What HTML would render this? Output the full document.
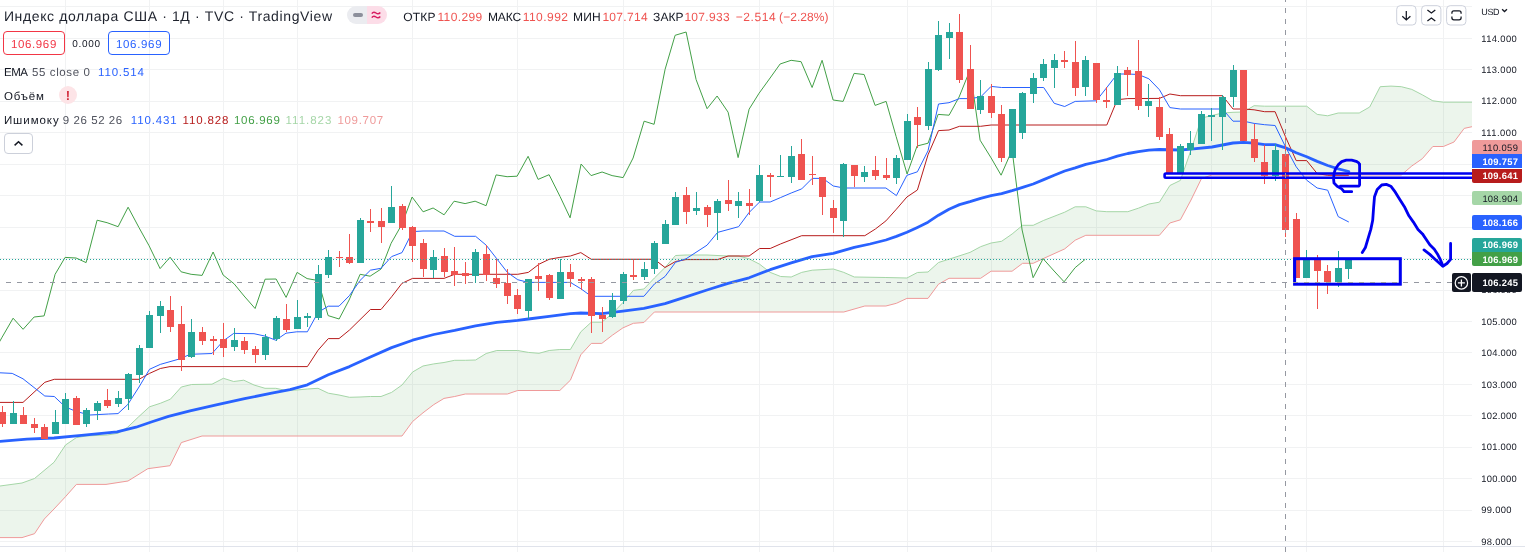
<!DOCTYPE html><html lang="ru"><head><meta charset="utf-8"><title>Индекс доллара США</title><style>
html,body{margin:0;padding:0;background:#fff;}
body{width:1525px;height:552px;position:relative;overflow:hidden;font-family:"Liberation Sans","DejaVu Sans",sans-serif;color:#131722;text-rendering:geometricPrecision;}
.t{position:absolute;white-space:nowrap;line-height:1;}
.pl{position:absolute;left:1472px;width:50px;box-sizing:border-box;border-radius:2px;}
.btn{position:absolute;box-sizing:border-box;border:1px solid #d1d4dc;border-radius:4px;background:#fff;}
</style></head><body>
<svg id="chart" width="1525" height="552" viewBox="0 0 1525 552" style="position:absolute;left:0;top:0">
<g stroke="#f1f2f3" stroke-width="1" shape-rendering="crispEdges"><line x1="0" y1="541.5" x2="1472" y2="541.5"/><line x1="0" y1="510.5" x2="1472" y2="510.5"/><line x1="0" y1="478.5" x2="1472" y2="478.5"/><line x1="0" y1="447.5" x2="1472" y2="447.5"/><line x1="0" y1="415.5" x2="1472" y2="415.5"/><line x1="0" y1="384.5" x2="1472" y2="384.5"/><line x1="0" y1="352.5" x2="1472" y2="352.5"/><line x1="0" y1="321.5" x2="1472" y2="321.5"/><line x1="0" y1="290.5" x2="1472" y2="290.5"/><line x1="0" y1="258.5" x2="1472" y2="258.5"/><line x1="0" y1="227.5" x2="1472" y2="227.5"/><line x1="0" y1="195.5" x2="1472" y2="195.5"/><line x1="0" y1="164.5" x2="1472" y2="164.5"/><line x1="0" y1="132.5" x2="1472" y2="132.5"/><line x1="0" y1="101.5" x2="1472" y2="101.5"/><line x1="0" y1="69.5" x2="1472" y2="69.5"/><line x1="0" y1="38.5" x2="1472" y2="38.5"/><line x1="0" y1="6.5" x2="1472" y2="6.5"/><line x1="65.5" y1="0" x2="65.5" y2="552"/><line x1="149.5" y1="0" x2="149.5" y2="552"/><line x1="223.5" y1="0" x2="223.5" y2="552"/><line x1="297.5" y1="0" x2="297.5" y2="552"/><line x1="412.5" y1="0" x2="412.5" y2="552"/><line x1="517.5" y1="0" x2="517.5" y2="552"/><line x1="623.5" y1="0" x2="623.5" y2="552"/><line x1="759.5" y1="0" x2="759.5" y2="552"/><line x1="833.5" y1="0" x2="833.5" y2="552"/><line x1="907.5" y1="0" x2="907.5" y2="552"/><line x1="991.5" y1="0" x2="991.5" y2="552"/><line x1="1096.5" y1="0" x2="1096.5" y2="552"/><line x1="1211.5" y1="0" x2="1211.5" y2="552"/><line x1="1306.5" y1="0" x2="1306.5" y2="552"/><line x1="1443.5" y1="0" x2="1443.5" y2="552"/></g>
<polygon points="0.0,486.0 22.0,483.0 34.5,478.5 54.0,462.3 65.5,445.0 76.4,437.6 87.0,435.9 107.3,435.0 118.2,433.2 127.7,427.2 138.6,416.8 149.5,406.8 160.3,403.3 170.4,399.2 181.3,387.0 191.6,384.5 212.0,384.2 223.4,378.3 233.7,381.5 243.8,380.2 254.0,385.0 265.0,388.3 275.8,388.3 286.0,390.5 296.8,390.0 307.4,389.0 318.0,388.3 328.3,393.2 339.0,395.0 349.5,397.3 360.0,397.0 370.4,396.5 381.0,396.5 391.6,392.4 402.0,385.0 412.6,372.0 423.0,366.0 433.8,363.9 444.0,362.5 454.7,360.3 465.3,360.3 475.6,360.0 486.2,353.5 496.8,350.5 517.7,350.5 528.3,352.4 539.0,353.3 549.2,350.5 559.8,349.5 570.4,349.5 580.8,331.8 591.3,322.2 601.8,322.2 612.4,313.5 622.9,302.6 633.4,290.4 643.9,289.0 654.4,278.0 665.0,267.5 675.5,255.5 686.0,255.0 707.0,255.0 728.1,256.0 738.6,256.0 749.1,258.8 759.6,264.2 770.2,272.4 780.7,276.5 791.2,277.0 801.7,272.4 812.2,270.2 833.3,269.0 843.8,272.4 854.3,277.0 885.9,277.5 906.9,278.0 917.4,272.5 928.0,272.0 938.5,262.5 949.0,259.2 970.0,252.4 980.6,246.7 991.1,243.0 1001.6,241.3 1012.1,234.0 1022.6,225.3 1033.2,225.3 1043.7,220.4 1064.7,212.2 1075.2,206.8 1085.8,206.8 1096.3,210.9 1106.8,211.7 1127.8,211.7 1138.4,208.2 1148.9,204.0 1159.4,202.2 1169.9,185.5 1180.4,180.4 1191.0,150.0 1201.5,118.0 1212.0,115.5 1222.5,113.0 1233.0,112.3 1243.6,112.0 1254.1,105.7 1264.6,106.2 1306.7,106.2 1317.2,114.4 1327.7,115.8 1338.2,113.0 1359.2,113.0 1369.7,107.0 1380.2,86.7 1391.0,86.1 1401.3,86.7 1411.8,89.4 1422.3,94.8 1432.8,100.8 1443.4,102.2 1472.0,102.2 1472.0,126.7 1464.2,128.4 1454.0,142.0 1443.4,146.5 1432.8,146.5 1422.3,158.7 1411.8,166.0 1401.3,175.0 1212.0,175.0 1201.5,178.5 1191.0,200.0 1180.4,219.8 1169.9,223.0 1159.4,235.3 1085.8,235.3 1075.2,240.2 1064.7,248.9 1043.7,258.4 1033.2,263.3 1022.6,263.3 1012.1,271.2 991.1,271.2 980.6,278.3 949.0,278.3 938.5,284.2 928.0,298.4 906.9,298.4 896.4,303.3 885.9,306.0 864.8,306.0 843.8,312.0 654.4,312.0 643.9,322.5 633.4,323.3 622.9,327.9 612.4,335.2 601.8,343.4 591.3,343.4 580.8,354.8 570.4,380.2 559.8,390.5 517.7,390.5 507.4,394.0 465.3,394.0 454.7,396.5 444.0,398.4 433.8,404.6 423.0,412.8 412.6,421.5 402.0,436.0 202.0,436.0 181.3,442.6 170.0,465.7 147.8,468.7 128.0,481.0 106.0,484.4 76.4,484.4 65.5,496.7 54.0,509.0 44.3,519.0 34.5,533.7 22.0,537.6 0.0,537.6" fill="rgba(67,160,71,0.1)"/>
<polyline points="0.0,486.0 22.0,483.0 34.5,478.5 54.0,462.3 65.5,445.0 76.4,437.6 87.0,435.9 107.3,435.0 118.2,433.2 127.7,427.2 138.6,416.8 149.5,406.8 160.3,403.3 170.4,399.2 181.3,387.0 191.6,384.5 212.0,384.2 223.4,378.3 233.7,381.5 243.8,380.2 254.0,385.0 265.0,388.3 275.8,388.3 286.0,390.5 296.8,390.0 307.4,389.0 318.0,388.3 328.3,393.2 339.0,395.0 349.5,397.3 360.0,397.0 370.4,396.5 381.0,396.5 391.6,392.4 402.0,385.0 412.6,372.0 423.0,366.0 433.8,363.9 444.0,362.5 454.7,360.3 465.3,360.3 475.6,360.0 486.2,353.5 496.8,350.5 517.7,350.5 528.3,352.4 539.0,353.3 549.2,350.5 559.8,349.5 570.4,349.5 580.8,331.8 591.3,322.2 601.8,322.2 612.4,313.5 622.9,302.6 633.4,290.4 643.9,289.0 654.4,278.0 665.0,267.5 675.5,255.5 686.0,255.0 707.0,255.0 728.1,256.0 738.6,256.0 749.1,258.8 759.6,264.2 770.2,272.4 780.7,276.5 791.2,277.0 801.7,272.4 812.2,270.2 833.3,269.0 843.8,272.4 854.3,277.0 885.9,277.5 906.9,278.0 917.4,272.5 928.0,272.0 938.5,262.5 949.0,259.2 970.0,252.4 980.6,246.7 991.1,243.0 1001.6,241.3 1012.1,234.0 1022.6,225.3 1033.2,225.3 1043.7,220.4 1064.7,212.2 1075.2,206.8 1085.8,206.8 1096.3,210.9 1106.8,211.7 1127.8,211.7 1138.4,208.2 1148.9,204.0 1159.4,202.2 1169.9,185.5 1180.4,180.4 1191.0,150.0 1201.5,118.0 1212.0,115.5 1222.5,113.0 1233.0,112.3 1243.6,112.0 1254.1,105.7 1264.6,106.2 1306.7,106.2 1317.2,114.4 1327.7,115.8 1338.2,113.0 1359.2,113.0 1369.7,107.0 1380.2,86.7 1391.0,86.1 1401.3,86.7 1411.8,89.4 1422.3,94.8 1432.8,100.8 1443.4,102.2 1472.0,102.2" fill="none" stroke="#a5d6a7" stroke-width="1"/>
<polyline points="0.0,537.6 22.0,537.6 34.5,533.7 44.3,519.0 54.0,509.0 65.5,496.7 76.4,484.4 106.0,484.4 128.0,481.0 147.8,468.7 170.0,465.7 181.3,442.6 202.0,436.0 402.0,436.0 412.6,421.5 423.0,412.8 433.8,404.6 444.0,398.4 454.7,396.5 465.3,394.0 507.4,394.0 517.7,390.5 559.8,390.5 570.4,380.2 580.8,354.8 591.3,343.4 601.8,343.4 612.4,335.2 622.9,327.9 633.4,323.3 643.9,322.5 654.4,312.0 843.8,312.0 864.8,306.0 885.9,306.0 896.4,303.3 906.9,298.4 928.0,298.4 938.5,284.2 949.0,278.3 980.6,278.3 991.1,271.2 1012.1,271.2 1022.6,263.3 1033.2,263.3 1043.7,258.4 1064.7,248.9 1075.2,240.2 1085.8,235.3 1159.4,235.3 1169.9,223.0 1180.4,219.8 1191.0,200.0 1201.5,178.5 1212.0,175.0 1401.3,175.0 1411.8,166.0 1422.3,158.7 1432.8,146.5 1443.4,146.5 1454.0,142.0 1464.2,128.4 1472.0,126.7" fill="none" stroke="#ef9a9a" stroke-width="1"/>
<polyline points="-7.9,354.9 2.1,337.2 13.1,318.2 23.1,329.3 34.1,317.0 44.1,315.9 55.1,274.3 65.1,257.4 76.1,258.0 86.1,262.6 97.1,220.2 107.1,222.7 118.1,226.7 128.1,207.2 139.1,227.8 149.1,245.8 160.1,268.6 170.1,257.2 181.1,271.8 191.1,274.3 202.1,275.4 213.1,252.0 223.1,275.0 234.1,283.8 244.1,296.0 255.1,308.5 265.1,279.2 276.1,279.0 286.1,297.4 297.1,272.4 307.1,278.6 318.1,280.5 328.1,315.6 339.1,319.0 349.1,300.0 360.1,274.3 370.1,276.2 381.1,269.0 391.1,243.3 402.1,224.0 412.1,197.0 423.1,211.8 433.1,208.0 444.1,214.8 454.1,201.2 465.1,203.6 475.1,201.2 486.1,205.7 496.1,174.9 507.1,176.7 517.1,176.2 528.1,156.3 538.1,179.4 549.1,174.7 560.1,196.6 570.1,217.8 581.1,164.0 591.1,175.6 602.1,172.0 612.1,175.6 623.1,177.6 633.1,158.0 644.1,121.2 654.1,124.3 665.1,69.3 675.1,35.3 686.1,32.0 696.1,79.6 707.1,108.7 717.1,96.0 728.1,112.2 738.1,157.6 749.1,109.2 759.1,93.2 770.1,78.0 780.1,64.0 791.1,60.3 801.1,61.7 812.1,87.5 822.1,60.3 833.1,100.0 843.1,101.4 854.1,73.4 864.1,74.5 875.1,105.4 886.1,101.4 896.1,136.4 907.1,174.0 917.1,146.0 928.1,143.2 938.1,114.4 949.1,115.2 959.1,97.0 970.1,69.8 980.1,140.2 991.1,157.9 1001.1,175.2 1012.1,150.0 1022.1,230.0 1033.1,277.7 1043.1,258.7 1054.1,271.0 1064.1,281.8 1075.1,267.7 1085.1,259.4" fill="none" stroke="#43a047" stroke-width="1" stroke-linejoin="round"/>
<polyline points="0.0,402.4 23.0,402.4 44.8,382.3 54.3,379.3 139.0,379.3 149.5,373.4 160.3,368.5 170.0,366.6 307.4,366.6 318.0,350.3 328.3,338.6 339.0,338.6 349.5,330.0 370.4,309.5 381.0,309.5 391.6,296.8 402.0,283.3 412.6,278.4 444.0,278.4 454.7,274.3 517.7,274.3 528.3,272.4 539.0,264.2 549.2,259.3 559.8,257.4 570.4,256.0 580.8,252.6 591.3,259.3 654.4,259.3 665.0,267.5 675.5,261.5 686.0,259.6 717.6,259.6 728.1,256.0 749.1,256.0 759.6,248.5 770.2,248.5 780.7,243.9 801.7,235.7 864.8,235.7 875.4,229.0 885.9,220.9 896.4,209.2 906.9,197.0 917.4,190.0 928.0,154.8 938.5,130.6 949.0,130.0 959.5,126.3 980.6,126.3 991.1,125.0 1106.8,125.0 1117.3,99.7 1127.8,98.6 1159.4,98.4 1169.9,94.0 1180.4,95.7 1222.5,95.7 1233.0,109.0 1243.6,109.0 1254.1,109.8 1264.6,111.7 1275.1,111.7 1285.6,137.0 1296.2,160.6 1306.7,160.6 1317.2,173.6 1327.7,175.3 1348.8,175.3" fill="none" stroke="#b71c1c" stroke-width="1" stroke-linejoin="round"/>
<polyline points="0.0,372.8 12.2,373.4 23.0,378.8 44.8,396.0 54.3,396.5 65.2,406.8 76.0,411.4 89.7,415.0 108.7,414.0 118.0,413.6 127.7,404.6 139.0,387.0 149.5,369.3 160.3,364.4 179.3,359.0 190.2,354.3 212.0,353.5 223.4,340.8 233.7,333.4 254.0,333.7 265.0,336.1 275.8,340.2 286.0,333.2 296.8,331.8 307.4,331.8 318.0,312.4 328.3,306.2 339.0,306.2 349.5,295.5 360.0,280.5 370.4,270.2 381.0,268.3 391.6,256.6 402.0,252.6 412.6,231.6 423.0,231.0 444.0,231.0 454.7,236.3 475.6,236.3 486.2,245.2 496.8,258.8 507.4,272.4 517.7,279.7 528.3,282.4 570.4,282.4 580.8,288.7 591.3,296.3 643.9,296.3 654.4,284.0 665.0,276.5 675.5,262.3 686.0,258.8 707.0,245.2 717.6,232.4 738.6,226.7 749.1,212.5 759.6,202.0 770.2,202.0 780.7,197.5 791.2,193.0 801.7,188.9 812.2,178.4 822.8,178.4 833.3,186.0 843.8,188.0 885.9,188.0 896.4,195.6 906.9,175.3 917.4,171.8 928.0,150.8 938.5,104.0 949.0,102.7 959.5,98.6 970.0,98.6 980.6,97.0 991.1,86.4 1001.6,87.5 1043.7,87.5 1054.2,103.3 1064.7,106.5 1075.2,101.4 1096.3,100.8 1106.8,87.5 1117.3,74.0 1127.8,74.0 1138.4,74.5 1148.9,78.8 1159.4,89.7 1169.9,107.6 1180.4,109.0 1222.5,109.0 1233.0,121.2 1243.6,121.2 1254.1,123.4 1264.6,124.7 1275.1,125.5 1285.6,147.0 1296.2,166.8 1306.7,180.2 1317.2,188.0 1327.7,190.2 1338.2,216.6 1348.8,222.0" fill="none" stroke="#2962ff" stroke-width="1" stroke-linejoin="round"/>
<polyline points="0.0,441.3 27.0,439.1 54.0,438.0 81.5,435.3 117.0,431.8 136.0,427.2 152.0,421.7 168.5,416.3 190.0,410.9 217.4,404.6 244.6,398.6 271.7,393.2 290.0,389.7 307.4,384.8 328.3,374.7 349.5,366.6 370.4,357.0 391.6,347.6 412.6,340.2 433.8,334.5 454.7,330.4 475.6,325.8 496.8,322.3 517.7,320.4 528.3,319.0 549.2,316.3 570.4,313.6 580.8,313.0 601.8,313.7 622.9,311.2 643.9,308.3 665.0,303.6 686.0,296.8 707.0,290.0 728.1,283.3 749.1,277.8 770.2,269.7 791.2,262.9 812.2,256.6 833.3,253.4 854.3,247.4 870.0,244.0 885.9,240.0 896.4,236.4 906.9,232.3 917.4,227.4 928.0,222.2 938.5,215.2 949.0,209.2 959.5,204.6 970.0,201.6 980.6,198.3 991.1,195.6 1001.6,193.7 1012.1,190.7 1022.6,187.4 1033.2,184.0 1043.7,179.6 1054.2,175.2 1064.7,171.0 1075.2,167.9 1085.8,164.3 1096.3,162.0 1106.8,159.5 1117.3,156.2 1127.8,153.5 1138.4,151.6 1148.9,150.2 1159.4,149.5 1180.4,150.0 1191.0,149.2 1212.0,147.0 1233.0,143.0 1243.6,142.4 1254.1,143.2 1264.6,144.6 1275.1,144.6 1285.6,147.8 1296.2,152.7 1306.7,156.8 1317.2,161.4 1327.7,165.5 1338.2,168.8 1348.8,171.5" fill="none" stroke="#2962ff" stroke-width="2.8" stroke-linejoin="round" stroke-linecap="round"/>
<g shape-rendering="crispEdges"><rect x="2" y="406" width="1" height="21" fill="#ef5350"/><rect x="-1" y="412" width="7" height="12" fill="#ef5350"/><rect x="13" y="401" width="1" height="23" fill="#26a69a"/><rect x="10" y="413" width="7" height="11" fill="#26a69a"/><rect x="23" y="407" width="1" height="17" fill="#ef5350"/><rect x="20" y="415" width="7" height="9" fill="#ef5350"/><rect x="34" y="418" width="1" height="15" fill="#ef5350"/><rect x="31" y="424" width="7" height="4" fill="#ef5350"/><rect x="44" y="424" width="1" height="15" fill="#ef5350"/><rect x="41" y="427" width="7" height="12" fill="#ef5350"/><rect x="55" y="410" width="1" height="24" fill="#26a69a"/><rect x="52" y="422" width="7" height="12" fill="#26a69a"/><rect x="65" y="393" width="1" height="31" fill="#26a69a"/><rect x="62" y="399" width="7" height="25" fill="#26a69a"/><rect x="76" y="396" width="1" height="29" fill="#ef5350"/><rect x="73" y="398" width="7" height="27" fill="#ef5350"/><rect x="86" y="408" width="1" height="19" fill="#26a69a"/><rect x="83" y="410" width="7" height="14" fill="#26a69a"/><rect x="97" y="401" width="1" height="19" fill="#26a69a"/><rect x="94" y="403" width="7" height="8" fill="#26a69a"/><rect x="107" y="389" width="1" height="19" fill="#ef5350"/><rect x="104" y="400" width="7" height="6" fill="#ef5350"/><rect x="118" y="391" width="1" height="16" fill="#26a69a"/><rect x="115" y="398" width="7" height="6" fill="#26a69a"/><rect x="128" y="373" width="1" height="37" fill="#26a69a"/><rect x="125" y="374" width="7" height="25" fill="#26a69a"/><rect x="139" y="345" width="1" height="38" fill="#26a69a"/><rect x="136" y="348" width="7" height="27" fill="#26a69a"/><rect x="149" y="311" width="1" height="37" fill="#26a69a"/><rect x="146" y="315" width="7" height="33" fill="#26a69a"/><rect x="160" y="301" width="1" height="32" fill="#26a69a"/><rect x="157" y="306" width="7" height="10" fill="#26a69a"/><rect x="170" y="296" width="1" height="36" fill="#ef5350"/><rect x="167" y="310" width="7" height="17" fill="#ef5350"/><rect x="181" y="306" width="1" height="65" fill="#ef5350"/><rect x="178" y="324" width="7" height="36" fill="#ef5350"/><rect x="191" y="319" width="1" height="39" fill="#26a69a"/><rect x="188" y="332" width="7" height="25" fill="#26a69a"/><rect x="202" y="327" width="1" height="18" fill="#ef5350"/><rect x="199" y="332" width="7" height="9" fill="#ef5350"/><rect x="213" y="336" width="1" height="19" fill="#ef5350"/><rect x="210" y="339" width="7" height="2" fill="#ef5350"/><rect x="223" y="323" width="1" height="34" fill="#ef5350"/><rect x="220" y="339" width="7" height="9" fill="#ef5350"/><rect x="234" y="328" width="1" height="23" fill="#26a69a"/><rect x="231" y="340" width="7" height="7" fill="#26a69a"/><rect x="244" y="337" width="1" height="17" fill="#ef5350"/><rect x="241" y="341" width="7" height="9" fill="#ef5350"/><rect x="255" y="346" width="1" height="17" fill="#ef5350"/><rect x="252" y="349" width="7" height="6" fill="#ef5350"/><rect x="265" y="334" width="1" height="26" fill="#26a69a"/><rect x="262" y="337" width="7" height="18" fill="#26a69a"/><rect x="276" y="316" width="1" height="25" fill="#26a69a"/><rect x="273" y="318" width="7" height="21" fill="#26a69a"/><rect x="286" y="304" width="1" height="28" fill="#ef5350"/><rect x="283" y="319" width="7" height="11" fill="#ef5350"/><rect x="297" y="300" width="1" height="29" fill="#26a69a"/><rect x="294" y="317" width="7" height="12" fill="#26a69a"/><rect x="307" y="313" width="1" height="14" fill="#26a69a"/><rect x="304" y="316" width="7" height="2" fill="#26a69a"/><rect x="318" y="265" width="1" height="55" fill="#26a69a"/><rect x="315" y="274" width="7" height="44" fill="#26a69a"/><rect x="328" y="250" width="1" height="28" fill="#26a69a"/><rect x="325" y="257" width="7" height="18" fill="#26a69a"/><rect x="339" y="251" width="1" height="16" fill="#ef5350"/><rect x="336" y="257" width="7" height="1" fill="#ef5350"/><rect x="349" y="234" width="1" height="30" fill="#ef5350"/><rect x="346" y="257" width="7" height="6" fill="#ef5350"/><rect x="360" y="218" width="1" height="45" fill="#26a69a"/><rect x="357" y="220" width="7" height="43" fill="#26a69a"/><rect x="370" y="209" width="1" height="23" fill="#ef5350"/><rect x="367" y="221" width="7" height="2" fill="#ef5350"/><rect x="381" y="208" width="1" height="35" fill="#ef5350"/><rect x="378" y="221" width="7" height="6" fill="#ef5350"/><rect x="391" y="186" width="1" height="37" fill="#26a69a"/><rect x="388" y="207" width="7" height="16" fill="#26a69a"/><rect x="402" y="204" width="1" height="26" fill="#ef5350"/><rect x="399" y="206" width="7" height="22" fill="#ef5350"/><rect x="412" y="226" width="1" height="36" fill="#ef5350"/><rect x="409" y="227" width="7" height="19" fill="#ef5350"/><rect x="423" y="239" width="1" height="38" fill="#ef5350"/><rect x="420" y="243" width="7" height="26" fill="#ef5350"/><rect x="433" y="250" width="1" height="28" fill="#26a69a"/><rect x="430" y="257" width="7" height="13" fill="#26a69a"/><rect x="444" y="248" width="1" height="29" fill="#ef5350"/><rect x="441" y="256" width="7" height="16" fill="#ef5350"/><rect x="454" y="247" width="1" height="39" fill="#ef5350"/><rect x="451" y="271" width="7" height="4" fill="#ef5350"/><rect x="465" y="262" width="1" height="22" fill="#ef5350"/><rect x="462" y="273" width="7" height="3" fill="#ef5350"/><rect x="475" y="249" width="1" height="34" fill="#26a69a"/><rect x="472" y="252" width="7" height="24" fill="#26a69a"/><rect x="486" y="245" width="1" height="36" fill="#ef5350"/><rect x="483" y="254" width="7" height="21" fill="#ef5350"/><rect x="496" y="259" width="1" height="29" fill="#ef5350"/><rect x="493" y="278" width="7" height="6" fill="#ef5350"/><rect x="507" y="269" width="1" height="35" fill="#ef5350"/><rect x="504" y="283" width="7" height="13" fill="#ef5350"/><rect x="517" y="289" width="1" height="25" fill="#ef5350"/><rect x="514" y="295" width="7" height="14" fill="#ef5350"/><rect x="528" y="279" width="1" height="40" fill="#26a69a"/><rect x="525" y="279" width="7" height="32" fill="#26a69a"/><rect x="538" y="263" width="1" height="28" fill="#ef5350"/><rect x="535" y="276" width="7" height="3" fill="#ef5350"/><rect x="549" y="274" width="1" height="26" fill="#ef5350"/><rect x="546" y="275" width="7" height="23" fill="#ef5350"/><rect x="560" y="259" width="1" height="40" fill="#26a69a"/><rect x="557" y="272" width="7" height="27" fill="#26a69a"/><rect x="570" y="264" width="1" height="23" fill="#ef5350"/><rect x="567" y="272" width="7" height="7" fill="#ef5350"/><rect x="581" y="277" width="1" height="13" fill="#ef5350"/><rect x="578" y="279" width="7" height="2" fill="#ef5350"/><rect x="591" y="277" width="1" height="56" fill="#ef5350"/><rect x="588" y="279" width="7" height="37" fill="#ef5350"/><rect x="602" y="307" width="1" height="25" fill="#ef5350"/><rect x="599" y="315" width="7" height="4" fill="#ef5350"/><rect x="612" y="293" width="1" height="25" fill="#26a69a"/><rect x="609" y="300" width="7" height="17" fill="#26a69a"/><rect x="623" y="272" width="1" height="32" fill="#26a69a"/><rect x="620" y="274" width="7" height="27" fill="#26a69a"/><rect x="633" y="259" width="1" height="21" fill="#ef5350"/><rect x="630" y="275" width="7" height="2" fill="#ef5350"/><rect x="644" y="262" width="1" height="18" fill="#26a69a"/><rect x="641" y="269" width="7" height="8" fill="#26a69a"/><rect x="654" y="241" width="1" height="33" fill="#26a69a"/><rect x="651" y="243" width="7" height="26" fill="#26a69a"/><rect x="665" y="220" width="1" height="24" fill="#26a69a"/><rect x="662" y="224" width="7" height="20" fill="#26a69a"/><rect x="675" y="192" width="1" height="33" fill="#26a69a"/><rect x="672" y="197" width="7" height="28" fill="#26a69a"/><rect x="686" y="187" width="1" height="37" fill="#ef5350"/><rect x="683" y="195" width="7" height="17" fill="#ef5350"/><rect x="696" y="192" width="1" height="23" fill="#26a69a"/><rect x="693" y="208" width="7" height="3" fill="#26a69a"/><rect x="707" y="205" width="1" height="22" fill="#ef5350"/><rect x="704" y="207" width="7" height="8" fill="#ef5350"/><rect x="717" y="199" width="1" height="41" fill="#26a69a"/><rect x="714" y="201" width="7" height="12" fill="#26a69a"/><rect x="728" y="180" width="1" height="31" fill="#ef5350"/><rect x="725" y="200" width="7" height="4" fill="#ef5350"/><rect x="738" y="192" width="1" height="26" fill="#26a69a"/><rect x="735" y="201" width="7" height="5" fill="#26a69a"/><rect x="749" y="189" width="1" height="26" fill="#ef5350"/><rect x="746" y="203" width="7" height="3" fill="#ef5350"/><rect x="759" y="165" width="1" height="37" fill="#26a69a"/><rect x="756" y="175" width="7" height="26" fill="#26a69a"/><rect x="770" y="173" width="1" height="24" fill="#ef5350"/><rect x="767" y="175" width="7" height="2" fill="#ef5350"/><rect x="780" y="155" width="1" height="22" fill="#26a69a"/><rect x="777" y="176" width="7" height="1" fill="#26a69a"/><rect x="791" y="146" width="1" height="37" fill="#26a69a"/><rect x="788" y="156" width="7" height="21" fill="#26a69a"/><rect x="801" y="139" width="1" height="41" fill="#ef5350"/><rect x="798" y="154" width="7" height="26" fill="#ef5350"/><rect x="812" y="156" width="1" height="29" fill="#ef5350"/><rect x="809" y="174" width="7" height="1" fill="#ef5350"/><rect x="822" y="177" width="1" height="38" fill="#ef5350"/><rect x="819" y="177" width="7" height="20" fill="#ef5350"/><rect x="833" y="200" width="1" height="33" fill="#ef5350"/><rect x="830" y="208" width="7" height="10" fill="#ef5350"/><rect x="843" y="163" width="1" height="74" fill="#26a69a"/><rect x="840" y="164" width="7" height="57" fill="#26a69a"/><rect x="854" y="165" width="1" height="22" fill="#ef5350"/><rect x="851" y="165" width="7" height="11" fill="#ef5350"/><rect x="864" y="166" width="1" height="16" fill="#26a69a"/><rect x="861" y="172" width="7" height="5" fill="#26a69a"/><rect x="875" y="156" width="1" height="24" fill="#ef5350"/><rect x="872" y="170" width="7" height="6" fill="#ef5350"/><rect x="886" y="158" width="1" height="22" fill="#ef5350"/><rect x="883" y="175" width="7" height="3" fill="#ef5350"/><rect x="896" y="155" width="1" height="29" fill="#26a69a"/><rect x="893" y="158" width="7" height="20" fill="#26a69a"/><rect x="907" y="114" width="1" height="46" fill="#26a69a"/><rect x="904" y="121" width="7" height="39" fill="#26a69a"/><rect x="917" y="107" width="1" height="41" fill="#ef5350"/><rect x="914" y="117" width="7" height="8" fill="#ef5350"/><rect x="928" y="62" width="1" height="68" fill="#26a69a"/><rect x="925" y="69" width="7" height="57" fill="#26a69a"/><rect x="938" y="21" width="1" height="50" fill="#26a69a"/><rect x="935" y="35" width="7" height="35" fill="#26a69a"/><rect x="949" y="23" width="1" height="36" fill="#26a69a"/><rect x="946" y="32" width="7" height="6" fill="#26a69a"/><rect x="959" y="14" width="1" height="69" fill="#ef5350"/><rect x="956" y="32" width="7" height="48" fill="#ef5350"/><rect x="970" y="45" width="1" height="64" fill="#ef5350"/><rect x="967" y="69" width="7" height="40" fill="#ef5350"/><rect x="980" y="80" width="1" height="34" fill="#26a69a"/><rect x="977" y="96" width="7" height="14" fill="#26a69a"/><rect x="991" y="84" width="1" height="34" fill="#ef5350"/><rect x="988" y="96" width="7" height="17" fill="#ef5350"/><rect x="1001" y="105" width="1" height="57" fill="#ef5350"/><rect x="998" y="114" width="7" height="44" fill="#ef5350"/><rect x="1012" y="109" width="1" height="49" fill="#26a69a"/><rect x="1009" y="109" width="7" height="49" fill="#26a69a"/><rect x="1022" y="92" width="1" height="47" fill="#26a69a"/><rect x="1019" y="93" width="7" height="40" fill="#26a69a"/><rect x="1033" y="73" width="1" height="30" fill="#26a69a"/><rect x="1030" y="78" width="7" height="16" fill="#26a69a"/><rect x="1043" y="59" width="1" height="22" fill="#26a69a"/><rect x="1040" y="64" width="7" height="14" fill="#26a69a"/><rect x="1054" y="54" width="1" height="34" fill="#26a69a"/><rect x="1051" y="60" width="7" height="8" fill="#26a69a"/><rect x="1064" y="51" width="1" height="17" fill="#ef5350"/><rect x="1061" y="60" width="7" height="2" fill="#ef5350"/><rect x="1075" y="41" width="1" height="55" fill="#ef5350"/><rect x="1072" y="62" width="7" height="26" fill="#ef5350"/><rect x="1085" y="56" width="1" height="40" fill="#26a69a"/><rect x="1082" y="60" width="7" height="27" fill="#26a69a"/><rect x="1096" y="63" width="1" height="40" fill="#ef5350"/><rect x="1093" y="63" width="7" height="37" fill="#ef5350"/><rect x="1106" y="87" width="1" height="21" fill="#ef5350"/><rect x="1103" y="100" width="7" height="2" fill="#ef5350"/><rect x="1117" y="66" width="1" height="39" fill="#26a69a"/><rect x="1114" y="73" width="7" height="32" fill="#26a69a"/><rect x="1127" y="67" width="1" height="29" fill="#ef5350"/><rect x="1124" y="70" width="7" height="5" fill="#ef5350"/><rect x="1138" y="40" width="1" height="70" fill="#ef5350"/><rect x="1135" y="71" width="7" height="35" fill="#ef5350"/><rect x="1148" y="84" width="1" height="33" fill="#26a69a"/><rect x="1145" y="101" width="7" height="5" fill="#26a69a"/><rect x="1159" y="97" width="1" height="43" fill="#ef5350"/><rect x="1156" y="107" width="7" height="30" fill="#ef5350"/><rect x="1169" y="128" width="1" height="46" fill="#ef5350"/><rect x="1166" y="134" width="7" height="40" fill="#ef5350"/><rect x="1180" y="144" width="1" height="30" fill="#26a69a"/><rect x="1177" y="146" width="7" height="28" fill="#26a69a"/><rect x="1190" y="131" width="1" height="24" fill="#26a69a"/><rect x="1187" y="143" width="7" height="7" fill="#26a69a"/><rect x="1201" y="111" width="1" height="33" fill="#26a69a"/><rect x="1198" y="114" width="7" height="30" fill="#26a69a"/><rect x="1211" y="108" width="1" height="33" fill="#26a69a"/><rect x="1208" y="115" width="7" height="2" fill="#26a69a"/><rect x="1222" y="95" width="1" height="55" fill="#26a69a"/><rect x="1219" y="97" width="7" height="20" fill="#26a69a"/><rect x="1233" y="65" width="1" height="42" fill="#26a69a"/><rect x="1230" y="70" width="7" height="27" fill="#26a69a"/><rect x="1243" y="70" width="1" height="71" fill="#ef5350"/><rect x="1240" y="70" width="7" height="71" fill="#ef5350"/><rect x="1254" y="124" width="1" height="38" fill="#ef5350"/><rect x="1251" y="139" width="7" height="19" fill="#ef5350"/><rect x="1264" y="145" width="1" height="39" fill="#ef5350"/><rect x="1261" y="162" width="7" height="14" fill="#ef5350"/><rect x="1275" y="144" width="1" height="37" fill="#26a69a"/><rect x="1272" y="150" width="7" height="26" fill="#26a69a"/><rect x="1285" y="136" width="1" height="101" fill="#ef5350"/><rect x="1282" y="154" width="7" height="76" fill="#ef5350"/><rect x="1296" y="213" width="1" height="65" fill="#ef5350"/><rect x="1293" y="219" width="7" height="59" fill="#ef5350"/><rect x="1306" y="250" width="1" height="28" fill="#26a69a"/><rect x="1303" y="259" width="7" height="19" fill="#26a69a"/><rect x="1317" y="255" width="1" height="54" fill="#ef5350"/><rect x="1314" y="259" width="7" height="12" fill="#ef5350"/><rect x="1327" y="265" width="1" height="29" fill="#ef5350"/><rect x="1324" y="271" width="7" height="11" fill="#ef5350"/><rect x="1338" y="251" width="1" height="36" fill="#26a69a"/><rect x="1335" y="268" width="7" height="14" fill="#26a69a"/><rect x="1348" y="259" width="1" height="20" fill="#26a69a"/><rect x="1345" y="259" width="7" height="10" fill="#26a69a"/></g>
<line x1="0" y1="259.5" x2="1472" y2="259.5" stroke="#26a69a" stroke-width="1" stroke-dasharray="1 2" shape-rendering="crispEdges"/>
<rect x="1164.6" y="173.5" width="330" height="4.3" rx="1.2" fill="none" stroke="#0000f0" stroke-width="2.6"/>
<rect x="1294.6" y="258.7" width="105.7" height="25.5" fill="none" stroke="#0000f0" stroke-width="3"/>
<polyline points="1359.6,164.5 1358.4,162.6 1356.2,161.3 1351.7,160.1 1346.3,160.1 1341.7,161.6 1338.1,164.9 1335.4,169.0 1334.0,173.6 1333.6,179.0 1334.0,183.1 1337.2,186.2 1341.7,188.9 1344.0,191.7 1351.7,191.7" fill="none" stroke="#0000f0" stroke-width="2.8" stroke-linecap="round" stroke-linejoin="round"/>
<polyline points="1340.4,186.2 1358.9,186.2 1359.6,184.9 1359.6,164.5" fill="none" stroke="#0000f0" stroke-width="2.8" stroke-linecap="round" stroke-linejoin="round"/>
<polyline points="1362.3,252.6 1365.4,247.5 1368.1,238.4 1370.8,229.4 1372.7,220.3 1373.6,207.6 1374.5,196.8 1377.2,189.5 1381.7,185.0 1386.3,184.4 1390.8,186.2 1395.3,192.2 1399.8,199.5 1404.4,206.7 1408.9,215.8 1413.4,222.1 1418.0,229.4 1422.5,233.9 1426.1,239.3 1429.8,244.8 1434.3,249.3 1437.9,254.8 1440.6,260.2 1442.8,265.6" fill="none" stroke="#0000f0" stroke-width="2.8" stroke-linecap="round" stroke-linejoin="round"/>
<polyline points="1424.0,249.9 1429.8,254.4 1436.1,260.2 1442.8,266.2 1447.0,263.5 1450.6,259.3 1450.6,243.5" fill="none" stroke="#0000f0" stroke-width="2.8" stroke-linecap="round" stroke-linejoin="round"/>
<line x1="1285.5" y1="0" x2="1285.5" y2="552" stroke="#9598a1" stroke-width="1" stroke-dasharray="5 6" stroke-dashoffset="3" shape-rendering="crispEdges"/>
<line x1="6" y1="282.5" x2="1452" y2="282.5" stroke="#9598a1" stroke-width="1" stroke-dasharray="5 6" stroke-dashoffset="0" shape-rendering="crispEdges"/>
<line x1="0" y1="546.5" x2="1525" y2="546.5" stroke="#e0e3eb" stroke-width="1" shape-rendering="crispEdges"/>
</svg>
<div class="t" style="letter-spacing:0.302px;left:1481.3px;top:537px;font-size:9.4px;color:#131722;">98.000</div>
<div class="t" style="letter-spacing:0.302px;left:1481.3px;top:505px;font-size:9.4px;color:#131722;">99.000</div>
<div class="t" style="letter-spacing:0.252px;left:1481.3px;top:474px;font-size:9.4px;color:#131722;">100.000</div>
<div class="t" style="letter-spacing:0.252px;left:1481.3px;top:442px;font-size:9.4px;color:#131722;">101.000</div>
<div class="t" style="letter-spacing:0.252px;left:1481.3px;top:411px;font-size:9.4px;color:#131722;">102.000</div>
<div class="t" style="letter-spacing:0.252px;left:1481.3px;top:380px;font-size:9.4px;color:#131722;">103.000</div>
<div class="t" style="letter-spacing:0.252px;left:1481.3px;top:348px;font-size:9.4px;color:#131722;">104.000</div>
<div class="t" style="letter-spacing:0.252px;left:1481.3px;top:317px;font-size:9.4px;color:#131722;">105.000</div>
<div class="t" style="letter-spacing:0.252px;left:1481.3px;top:285px;font-size:9.4px;color:#131722;">106.000</div>
<div class="t" style="letter-spacing:0.483px;left:1481.3px;top:128px;font-size:9.4px;color:#131722;">111.000</div>
<div class="t" style="letter-spacing:0.366px;left:1481.3px;top:96px;font-size:9.4px;color:#131722;">112.000</div>
<div class="t" style="letter-spacing:0.366px;left:1481.3px;top:65px;font-size:9.4px;color:#131722;">113.000</div>
<div class="t" style="letter-spacing:0.366px;left:1481.3px;top:34px;font-size:9.4px;color:#131722;">114.000</div>
<div class="pl" style="top:140.2px;height:14.1px;background:#ef9a9a;border-radius:2px 2px 0 0"></div>
<div class="t" style="letter-spacing:0.383px;left:1482.4px;top:143px;font-size:9.4px;color:#131722;">110.059</div>
<div class="pl" style="top:154.3px;height:14.2px;background:#2962ff;border-radius:0"></div>
<div class="t" style="letter-spacing:0.268px;left:1482.4px;top:157px;font-size:9.4px;color:#fff;font-weight:bold;">109.757</div>
<div class="pl" style="top:168.5px;height:14.5px;background:#b71c1c;border-radius:0 0 2px 2px"></div>
<div class="t" style="letter-spacing:0.268px;left:1482.4px;top:171px;font-size:9.4px;color:#fff;font-weight:bold;">109.641</div>
<div class="pl" style="top:191px;height:14.4px;background:#a5d6a7;border-radius:2px"></div>
<div class="t" style="letter-spacing:0.268px;left:1482.4px;top:194px;font-size:9.4px;color:#131722;">108.904</div>
<div class="pl" style="top:215px;height:15.0px;background:#2962ff;border-radius:2px"></div>
<div class="t" style="letter-spacing:0.268px;left:1482.4px;top:218px;font-size:9.4px;color:#fff;font-weight:bold;">108.166</div>
<div class="pl" style="top:237.7px;height:14.5px;background:#26a69a;border-radius:2px 2px 0 0"></div>
<div class="t" style="letter-spacing:0.268px;left:1482.4px;top:240px;font-size:9.4px;color:#fff;font-weight:bold;">106.969</div>
<div class="pl" style="top:252.2px;height:14.1px;background:#43a047;border-radius:0 0 2px 2px"></div>
<div class="t" style="letter-spacing:0.268px;left:1482.4px;top:255px;font-size:9.4px;color:#fff;font-weight:bold;">106.969</div>
<div class="pl" style="top:272.5px;height:19.7px;background:#131722;border-radius:2px"></div>
<div class="t" style="letter-spacing:0.268px;left:1482.4px;top:278px;font-size:9.4px;color:#fff;font-weight:bold;">106.245</div>
<div style="position:absolute;left:1452px;top:272.5px;width:19px;height:19.7px;background:#131722;border-radius:2px"><svg width="19" height="19.7" viewBox="0 0 19 19.7"><circle cx="9.4" cy="9.9" r="6.2" fill="none" stroke="#fff" stroke-width="1.2"/><path d="M9.4 6.4v7M5.9 9.9h7" stroke="#fff" stroke-width="1.3"/></svg></div>
<div class="t" style="letter-spacing:-0.408px;left:1481.3px;top:8px;font-size:9px;color:#131722;">USD</div>
<svg style="position:absolute;left:1500px;top:7px" width="9" height="7" viewBox="0 0 9 7"><path d="M2.1 2.2L4.5 4.5L7 2.2" fill="none" stroke="#131722" stroke-width="1.3"/></svg>
<svg style="position:absolute;left:1390px;top:0px" width="82" height="30" viewBox="1390 0 82 30"><g fill="#fff" stroke="#cdd1dc" stroke-width="1"><rect x="1396.7" y="5.7" width="19.3" height="19.3" rx="3.6"/><rect x="1421.6" y="5.7" width="19.3" height="19.3" rx="3.6"/><rect x="1446.6" y="5.7" width="19.3" height="19.3" rx="3.6"/></g><g fill="none" stroke="#131722" stroke-width="1.25"><path d="M1406.3 11V19.7M1402.3 16.2L1406.3 19.9L1410.4 16.2"/><path d="M1427.4 9.9L1431.4 12.9L1435.3 9.9M1427.4 21.1L1431.4 18.1L1435.3 21.1"/><path d="M1451.9 13.8V12.9a2 2 0 0 1 2-2h5.2a2 2 0 0 1 2 2v.9M1451.9 16.6v1.2a2 2 0 0 0 2 2h5.2a2 2 0 0 0 2-2v-1.2"/></g></svg>
<div class="t" style="letter-spacing:0.628px;left:3.9px;top:9px;font-size:14px;color:#1e222d;">Индекс доллара США · 1Д · TVC · TradingView</div>
<div style="position:absolute;left:347px;top:6px;width:20px;height:18px;background:#ebecf0;border-radius:9px 0 0 9px"></div>
<div style="position:absolute;left:367px;top:6px;width:20px;height:18px;background:#fcdde8;border-radius:0 9px 9px 0"></div>
<div style="position:absolute;left:353px;top:13px;width:10px;height:4.4px;background:#8c8f9b;border-radius:2.2px"></div>
<svg style="position:absolute;left:370px;top:9px" width="12" height="12" viewBox="0 0 12 12"><path d="M1.8 4.6C3.2 2.6 4.6 3 6 4C7.4 5 8.8 5.2 10.3 3.4M1.8 8.6C3.2 6.6 4.6 7 6 8C7.4 9 8.8 9.2 10.3 7.4" fill="none" stroke="#d81b60" stroke-width="1.5"/></svg>
<div class="t" style="letter-spacing:0.243px;left:403.2px;top:11px;font-size:12px;color:#131722;">ОТКР</div>
<div class="t" style="letter-spacing:0.400px;left:437.4px;top:11px;font-size:12px;color:#ef5350;">110.299</div>
<div class="t" style="letter-spacing:-0.044px;left:487.9px;top:11px;font-size:12px;color:#131722;">МАКС</div>
<div class="t" style="letter-spacing:0.467px;left:522.7px;top:11px;font-size:12px;color:#ef5350;">110.992</div>
<div class="t" style="letter-spacing:0.102px;left:573.1px;top:11px;font-size:12px;color:#131722;">МИН</div>
<div class="t" style="letter-spacing:0.302px;left:602.4px;top:11px;font-size:12px;color:#ef5350;">107.714</div>
<div class="t" style="letter-spacing:0.083px;left:653.1px;top:11px;font-size:12px;color:#131722;">ЗАКР</div>
<div class="t" style="letter-spacing:0.302px;left:684.4px;top:11px;font-size:12px;color:#ef5350;">107.933</div>
<div class="t" style="letter-spacing:0.551px;left:735.8px;top:11px;font-size:12px;color:#ef5350;">−2.514</div>
<div class="t" style="letter-spacing:0.067px;left:779.1px;top:11px;font-size:12px;color:#ef5350;">(−2.28%)</div>
<div style="position:absolute;left:3px;top:31.3px;width:61.7px;height:23.6px;box-sizing:border-box;border:1px solid #f23645;border-radius:4px"></div>
<div class="t" style="letter-spacing:0.637px;left:10.9px;top:40px;font-size:11.5px;color:#f23645;">106.969</div>
<div class="t" style="letter-spacing:0.717px;left:72.2px;top:40px;font-size:10px;color:#131722;">0.000</div>
<div style="position:absolute;left:108px;top:31.3px;width:62px;height:23.6px;box-sizing:border-box;border:1px solid #2962ff;border-radius:4px"></div>
<div class="t" style="letter-spacing:0.687px;left:115.9px;top:40px;font-size:11.5px;color:#2962ff;">106.969</div>
<div class="t" style="letter-spacing:-0.411px;left:3.9px;top:68px;font-size:11.5px;color:#131722;">EMA</div>
<div class="t" style="letter-spacing:0.629px;left:31.9px;top:68px;font-size:11.5px;color:#50535e;">55 close 0</div>
<div class="t" style="letter-spacing:0.847px;left:98.0px;top:68px;font-size:11.5px;color:#2962ff;">110.514</div>
<div class="t" style="letter-spacing:0.865px;left:3.9px;top:92px;font-size:11.5px;color:#131722;">Объём</div>
<div style="position:absolute;left:59px;top:86px;width:18px;height:18px;border-radius:9px;background:#fde4e7"></div>
<div class="t" style="left:59px;width:18px;text-align:center;top:89.1px;font-size:13px;font-weight:bold;color:#d32f3f">!</div>
<div class="t" style="letter-spacing:0.943px;left:3.9px;top:116px;font-size:11.5px;color:#131722;">Ишимоку</div>
<div class="t" style="letter-spacing:0.560px;left:62.8px;top:116px;font-size:11.5px;color:#50535e;">9 26 52 26</div>
<div class="t" style="letter-spacing:0.847px;left:130.8px;top:116px;font-size:11.5px;color:#2962ff;">110.431</div>
<div class="t" style="letter-spacing:0.847px;left:182.6px;top:116px;font-size:11.5px;color:#b71c1c;">110.828</div>
<div class="t" style="letter-spacing:0.704px;left:234.0px;top:116px;font-size:11.5px;color:#43a047;">106.969</div>
<div class="t" style="letter-spacing:0.987px;left:285.6px;top:116px;font-size:11.5px;color:#a5d6a7;">111.823</div>
<div class="t" style="letter-spacing:0.704px;left:337.4px;top:116px;font-size:11.5px;color:#ef9a9a;">109.707</div>
<div class="btn" style="left:4px;top:133px;width:28.8px;height:20.6px;border-color:#ccd0da"></div>
<svg style="position:absolute;left:4px;top:133px" width="28.8" height="20.6" viewBox="0 0 28.8 20.6"><path d="M10.6 12.4L14.5 8.8L18.4 12.4" fill="none" stroke="#131722" stroke-width="1.5"/></svg>
</body></html>
